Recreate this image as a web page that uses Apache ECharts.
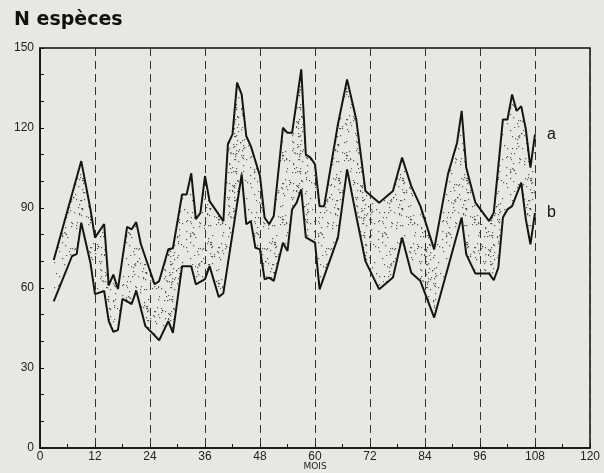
<!DOCTYPE html>
<html><head><meta charset="utf-8">
<script src="https://cdn.jsdelivr.net/npm/echarts@6/dist/echarts.min.js"></script>
<style>html,body{margin:0;padding:0;background:#e7e8e3}#c{width:604px;height:473px}</style>
</head><body><div id="c"></div>
<script>
// Curve a (upper): month, number of species
const monthsA = [3,9,11,12,14,15,16,17,19,20,21,22,25,26,28,29,31,32,33,34,35,36,37,40,41,42,43,44,45,46,48,49,50,51,53,54,55,57,58,59,60,61,62,65,67,69,71,74,77,79,81,83,86,89,91,92,93,95,98,99,101,102,103,104,105,106,107,108];
const valuesA = [70.5,107.6,89.6,78.9,84,61,65,59.6,82.9,82,84.7,76.5,61.4,62.6,74.5,74.9,95.1,95.1,103,85.8,88.2,102,92.6,85.1,114,117.6,137,132.6,117,113.2,102,86.4,83.9,87,120.1,118.2,118.2,142,110,108.9,106.4,90.7,90.7,121.4,138.2,123.2,96.4,92,96.4,108.9,98.2,90.7,74.5,102.6,114.5,126.4,105.1,92,85.1,88.2,123.2,123.2,132.6,126.4,128.2,119.5,105.1,117.6];
// Curve b (lower)
const monthsB = [3,7,8,9,11,12,14,15,16,17,18,20,21,23,24,26,28,29,31,33,34,36,37,39,40,44,45,46,47,48,49,50,51,53,54,55,56,57,58,60,61,65,67,69,71,74,77,79,81,83,86,89,92,93,95,98,99,100,101,102,103,105,106,107,108];
const valuesB = [55,72,72.7,84.5,69.5,57.7,58.9,47.6,43.6,44.2,55.9,54,59,45.7,44,40.4,47.6,43.2,68.2,68.2,61.4,63.3,68.2,56.6,58,102.6,83.9,85.1,75.1,74.5,63.3,63.9,62.6,77,73.9,89.5,92,97,79,77,59.5,78.9,104.5,87,70.1,59.5,63.9,78.9,65.7,62.6,48.9,67.6,86.4,72.6,65.4,65.4,62.9,67.6,86.4,89.5,90.7,99.5,85.8,76.4,88.2];
const seriesNames = ['a','b'];

// stipple texture (styling only)
function stipple(){
  const n = 64, c = document.createElement('canvas');
  c.width = n; c.height = n;
  const g = c.getContext('2d');
  g.fillStyle = 'rgba(30,30,30,0.7)';
  let h = 12345;
  const next = () => { h = (h * 1103515245 + 12345) & 0x7fffffff; return h / 0x7fffffff; };
  for (let i = 0; i < 190; i++) {
    const x = Math.floor(next() * n), y = Math.floor(next() * n);
    g.fillRect(x, y, 1.2, 1.2);
  }
  return c;
}
const pat = stipple();

const chart = echarts.init(document.getElementById('c'), null, {renderer:'canvas'});
const lineStyle = {color:'#151515', width:2};
chart.setOption({
  animation:false,
  backgroundColor:'#e7e8e3',
  title:{text:'N espèces', left:9, top:6, textStyle:{fontFamily:'DejaVu Sans', fontWeight:'bold', fontSize:19, color:'#111'}},
  grid:{left:40, right:14, top:48, bottom:25, show:true, borderColor:'#111', borderWidth:1.5, backgroundColor:'transparent', containLabel:false, outerBoundsMode:'none'},
  xAxis:{type:'value', min:0, max:120, interval:12,
    name:'MOIS', nameLocation:'middle', nameGap:14, nameMoveOverlap:false, nameTextStyle:{fontSize:9, color:'#222', fontFamily:'DejaVu Sans'},
    axisLine:{lineStyle:{color:'#111', width:1.5}},
    axisTick:{inside:true, length:4, lineStyle:{color:'#111'}},
    minorTick:{show:true, splitNumber:2, length:4, lineStyle:{color:'#111'}},
    axisLabel:{fontSize:12, color:'#222', fontFamily:'Liberation Sans', margin:3},
    splitLine:{show:true, lineStyle:{type:[8,5], color:'#333', width:1}}
  },
  yAxis:{type:'value', min:0, max:150, interval:30,
    axisLine:{show:true, lineStyle:{color:'#111', width:1.5}},
    axisTick:{show:true, inside:true, length:4, lineStyle:{color:'#111'}},
    minorTick:{show:true, splitNumber:3, length:4, lineStyle:{color:'#111'}},
    axisLabel:{fontSize:12, color:'#222', fontFamily:'Liberation Sans', margin:6},
    splitLine:{show:false}
  },
  series:[
    {type:'custom', silent:true, z:1, data:[[0,0]],
      renderItem:function(params, api){
        const pts = [];
        for (let i = 0; i < monthsA.length; i++) pts.push(api.coord([monthsA[i], valuesA[i]]));
        for (let i = monthsB.length - 1; i >= 0; i--) pts.push(api.coord([monthsB[i], valuesB[i]]));
        return {type:'polygon', shape:{points:pts}, style:{fill:{image:pat, repeat:'repeat'}, stroke:null}};
      }},
    {name:seriesNames[0], type:'line', z:3, symbol:'none', lineStyle:lineStyle,
      data:monthsA.map((m,i)=>[m, valuesA[i]]),
      endLabel:{show:true, formatter:seriesNames[0], distance:12, fontSize:16, color:'#111', fontFamily:'Liberation Sans'}},
    {name:seriesNames[1], type:'line', z:3, symbol:'none', lineStyle:lineStyle,
      data:monthsB.map((m,i)=>[m, valuesB[i]]),
      endLabel:{show:true, formatter:seriesNames[1], distance:12, fontSize:16, color:'#111', fontFamily:'Liberation Sans'}}
  ]
});
</script></body></html>
